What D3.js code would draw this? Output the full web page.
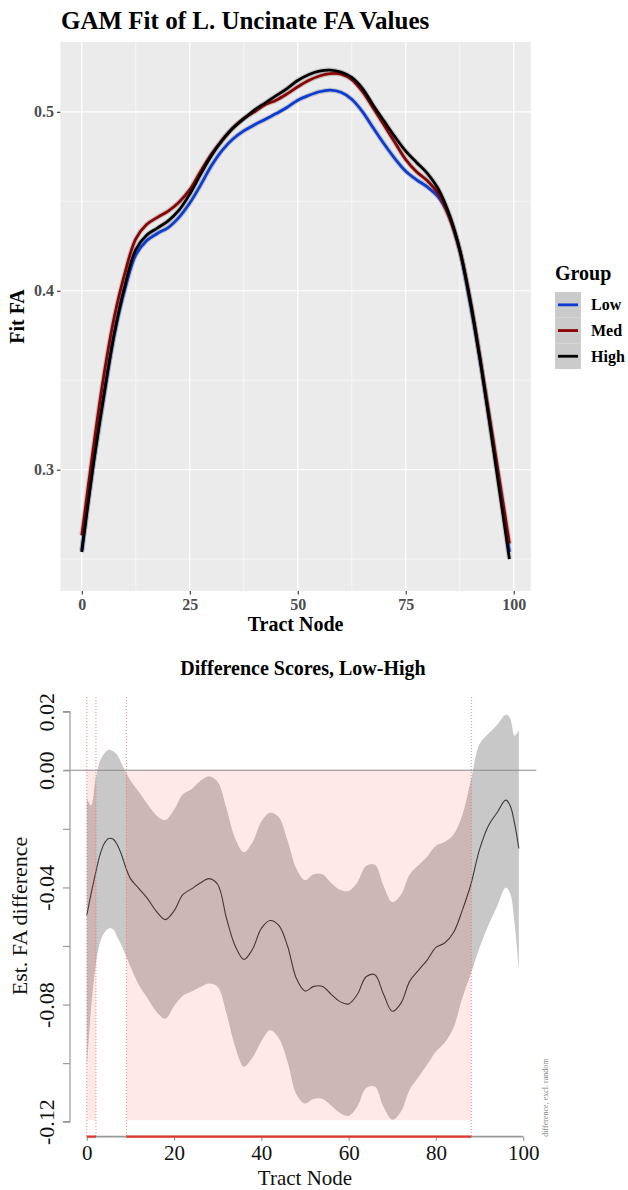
<!DOCTYPE html>
<html><head><meta charset="utf-8">
<script src="https://cdn.jsdelivr.net/npm/d3@7"></script>
<style>body{margin:0;background:#fff}</style>
</head><body>
<svg id="c" width="628" height="1190"></svg>
<script>
// ---------- Top chart data ----------
const topNodes = [0,2.5,5,7.5,10,12.5,15,17.5,20,22.5,25,27.5,30,32.5,35,37.5,40,42.5,45,47.5,50,52.5,55,57.5,60,62.5,65,67.5,70,72.5,75,77.5,80,82.5,85,87.5,90,92.5,95,97.5,99];
const fitLow  = [0.255,0.300,0.339,0.375,0.401,0.420,0.428,0.432,0.4353,0.441,0.449,0.459,0.4698,0.4785,0.4848,0.4893,0.4927,0.4958,0.499,0.5024,0.5065,0.5091,0.5112,0.5121,0.5109,0.507,0.500,0.4909,0.482,0.4738,0.4668,0.462,0.458,0.4525,0.442,0.4225,0.392,0.357,0.318,0.279,0.254];
const fitMed  = [0.2633,0.309,0.351,0.385,0.410,0.429,0.437,0.441,0.4445,0.4495,0.4565,0.4667,0.4762,0.4842,0.491,0.4963,0.500,0.504,0.5065,0.510,0.514,0.5175,0.520,0.5213,0.5211,0.518,0.5112,0.502,0.4925,0.4828,0.4733,0.4665,0.4615,0.4543,0.4415,0.4225,0.394,0.358,0.3202,0.2818,0.2587];
const fitHigh = [0.254,0.300,0.340,0.376,0.403,0.423,0.431,0.435,0.439,0.445,0.454,0.465,0.4755,0.484,0.491,0.496,0.501,0.505,0.509,0.513,0.5175,0.5207,0.5227,0.5233,0.5222,0.5192,0.513,0.5035,0.4947,0.486,0.478,0.4717,0.4656,0.457,0.4432,0.423,0.393,0.357,0.3165,0.275,0.250];
const groupNames = ["Low","Med","High"];
const groupColors = ["#0a3bd6","#8b0000","#000000"];
const topXTicks = [0,25,50,75,100];
const topXMinor = [12.5,37.5,62.5,87.5];
const topYTicks = [0.3,0.4,0.5];
const topYMinor = [0.25,0.35,0.45];

// ---------- Bottom chart data ----------
const diffNodes = [0,1,2,3,4,5,6,7,8,9,10,12,14,16,18,20,22,24,26,28,30,32,34,36,38,40,42,44,46,48,50,52,54,56,58,60,62,64,66,68,70,72,74,76,78,80,82,84,86,88,90,92,94,96,97,98,99];
const diffMean  = [-0.0495,-0.042,-0.0352,-0.029,-0.025,-0.0233,-0.0235,-0.0255,-0.029,-0.0335,-0.037,-0.0405,-0.044,-0.0483,-0.051,-0.048,-0.0425,-0.0405,-0.0385,-0.037,-0.039,-0.0505,-0.060,-0.0646,-0.061,-0.054,-0.0513,-0.053,-0.060,-0.071,-0.0754,-0.0738,-0.0738,-0.0765,-0.079,-0.0798,-0.0765,-0.0705,-0.0698,-0.0765,-0.0823,-0.0795,-0.072,-0.0683,-0.0648,-0.0605,-0.059,-0.0555,-0.048,-0.039,-0.027,-0.019,-0.0145,-0.0102,-0.012,-0.018,-0.0267];
const diffUpper = [-0.0097,-0.012,-0.003,0.003,0.0057,0.007,0.0065,0.0052,0.0022,-0.0008,-0.0035,-0.0075,-0.0118,-0.0155,-0.017,-0.0135,-0.0082,-0.0065,-0.0037,-0.002,-0.004,-0.013,-0.0233,-0.028,-0.0245,-0.0175,-0.0145,-0.016,-0.024,-0.0335,-0.0375,-0.0355,-0.0355,-0.0385,-0.0408,-0.0412,-0.0382,-0.0327,-0.0322,-0.0395,-0.045,-0.0425,-0.0355,-0.0324,-0.0295,-0.0258,-0.0245,-0.022,-0.0155,-0.0035,0.009,0.0125,0.0155,0.019,0.0178,0.0118,0.0137];
const diffLower = [-0.102,-0.081,-0.067,-0.059,-0.0555,-0.054,-0.0542,-0.057,-0.060,-0.0635,-0.067,-0.0735,-0.078,-0.0825,-0.0848,-0.0805,-0.077,-0.0755,-0.074,-0.0728,-0.074,-0.083,-0.0944,-0.1012,-0.098,-0.0925,-0.0888,-0.0915,-0.0995,-0.1105,-0.1138,-0.1122,-0.1122,-0.1145,-0.117,-0.118,-0.1148,-0.1085,-0.108,-0.115,-0.1193,-0.1165,-0.109,-0.1047,-0.1005,-0.096,-0.093,-0.088,-0.078,-0.0695,-0.0605,-0.053,-0.0465,-0.040,-0.042,-0.052,-0.068];
const sigStart = [0, 9.07];
const sigEnd   = [2.1, 88.1];
const botXTicks = [0,20,40,60,80,100];
const botYTicks = [0.02,0,-0.02,-0.04,-0.06,-0.08,-0.10,-0.12];
const botYLabels = ["0.02","0.00","","-0.04","","-0.08","","-0.12"];

const svg = d3.select("#c");
const SERIF = "'Liberation Serif','Times New Roman',serif";
svg.append("rect").attr("width",628).attr("height",1190).attr("fill","#fff");

// ================= TOP CHART =================
const pL = 60.4, pR = 530.8, pT = 42, pB = 591;
const xT = d3.scaleLinear().domain([-4.95, 103.95]).range([pL, pR]);
const yT = d3.scaleLinear().domain([0.2322, 0.539]).range([pB, pT]);
const topG = svg.append("g");
topG.append("rect").attr("x",pL).attr("y",pT).attr("width",pR-pL).attr("height",pB-pT).attr("fill","#ebebeb");
topG.selectAll(".gxm").data(topXMinor).enter().append("line")
  .attr("x1",d=>xT(d)).attr("x2",d=>xT(d)).attr("y1",pT).attr("y2",pB)
  .attr("stroke","#fff").attr("stroke-width",0.6);
topG.selectAll(".gym").data(topYMinor).enter().append("line")
  .attr("y1",d=>yT(d)).attr("y2",d=>yT(d)).attr("x1",pL).attr("x2",pR)
  .attr("stroke","#fff").attr("stroke-width",0.6);
topG.selectAll(".gx").data(topXTicks).enter().append("line")
  .attr("x1",d=>xT(d)).attr("x2",d=>xT(d)).attr("y1",pT).attr("y2",pB)
  .attr("stroke","#fff").attr("stroke-width",1.2);
topG.selectAll(".gy").data(topYTicks).enter().append("line")
  .attr("y1",d=>yT(d)).attr("y2",d=>yT(d)).attr("x1",pL).attr("x2",pR)
  .attr("stroke","#fff").attr("stroke-width",1.2);

const series = [fitLow, fitMed, fitHigh];
const lineT = d3.line().x((d,i)=>xT(topNodes[i])).y(d=>yT(d)).curve(d3.curveCatmullRom);
series.forEach((s,k)=>{
  topG.append("path").datum(s).attr("d",lineT).attr("fill","none")
    .attr("stroke","rgba(120,120,120,0.35)").attr("stroke-width",5);
});
series.forEach((s,k)=>{
  topG.append("path").datum(s).attr("d",lineT).attr("fill","none")
    .attr("stroke",groupColors[k]).attr("stroke-width",2.8).attr("stroke-linejoin","round");
});

const axL = topG.append("g").attr("transform",`translate(${pL},0)`)
  .call(d3.axisLeft(yT).tickValues(topYTicks).tickSize(3.5).tickPadding(3).tickFormat(d3.format(".1f")));
const axB = topG.append("g").attr("transform",`translate(0,${pB})`)
  .call(d3.axisBottom(xT).tickValues(topXTicks).tickSize(3.5).tickPadding(4).tickFormat(d3.format("d")));
[axL,axB].forEach(a=>{
  a.select(".domain").remove();
  a.selectAll(".tick line").attr("stroke","#333").attr("stroke-width",1.1);
  a.selectAll(".tick text").attr("fill","#4d4d4d").style("font-family",SERIF)
    .style("font-size","16px").style("font-weight","bold");
});

topG.append("text").attr("x",61).attr("y",29).text("GAM Fit of L. Uncinate FA Values")
  .style("font-family",SERIF).style("font-size","25px").style("font-weight","bold").attr("fill","#000");
topG.append("text").attr("x",(pL+pR)/2).attr("y",631).attr("text-anchor","middle").text("Tract Node")
  .style("font-family",SERIF).style("font-size","20px").style("font-weight","bold");
topG.append("text").attr("transform",`translate(24,${(pT+pB)/2}) rotate(-90)`).attr("text-anchor","middle").text("Fit FA")
  .style("font-family",SERIF).style("font-size","20px").style("font-weight","bold");

const lg = topG.append("g");
lg.append("text").attr("x",555).attr("y",280).text("Group")
  .style("font-family",SERIF).style("font-size","20px").style("font-weight","bold");
const keyH = 25.7;
groupNames.forEach((g,i)=>{
  const y0 = 292 + i*keyH;
  lg.append("rect").attr("x",555).attr("y",y0).attr("width",26).attr("height",keyH).attr("fill","#cbcbcb");
  lg.append("line").attr("x1",558).attr("x2",578).attr("y1",y0+keyH/2).attr("y2",y0+keyH/2)
    .attr("stroke",groupColors[i]).attr("stroke-width",2.8);
  lg.append("text").attr("x",591).attr("y",y0+keyH/2+5.5).text(g)
    .style("font-family",SERIF).style("font-size","16px").style("font-weight","bold");
});

// ================= BOTTOM CHART =================
const xB = d3.scaleLinear().domain([0,100]).range([86.8, 523.2]);
const yB = d3.scaleLinear().domain([-0.12, 0.02]).range([1121.7, 711.7]);
const botG = svg.append("g");
const plotTop = yB(0.025), plotBot = yB(-0.1251);
const bandArea = d3.area().x((d,i)=>xB(diffNodes[i])).y0((d,i)=>yB(diffLower[i])).y1(d=>yB(d)).curve(d3.curveCatmullRom);
botG.append("path").datum(diffUpper).attr("d",bandArea).attr("fill","#c8c8c8");
const lineB = d3.line().x((d,i)=>xB(diffNodes[i])).y(d=>yB(d)).curve(d3.curveCatmullRom);
botG.append("path").datum(diffMean).attr("d",lineB).attr("fill","none").attr("stroke","#3a3a3a").attr("stroke-width",1.1);

sigStart.forEach((s,i)=>{
  botG.append("rect").attr("x",xB(s)).attr("y",yB(0)).attr("width",xB(sigEnd[i])-xB(s)).attr("height",yB(-0.1195)-yB(0))
    .attr("fill","rgba(255,0,0,0.09)");
});
botG.append("line").attr("x1",xB(-5.3)).attr("x2",xB(103)).attr("y1",yB(0)).attr("y2",yB(0))
  .attr("stroke","#8a8a8a").attr("stroke-width",1.1);
const cuts = [];
sigStart.forEach((s,i)=>{cuts.push(s); cuts.push(sigEnd[i]);});
botG.selectAll(".cut").data(cuts).enter().append("line")
  .attr("x1",d=>xB(d)).attr("x2",d=>xB(d)).attr("y1",plotTop).attr("y2",plotBot)
  .attr("stroke","#f07070").attr("stroke-width",0.9).attr("stroke-dasharray","1,2");

const bAxY = botG.append("g").attr("transform","translate(70,0)")
  .call(d3.axisLeft(yB).tickValues(botYTicks).tickSize(7).tickPadding(0).tickFormat((d,i)=>botYLabels[i]));
bAxY.select(".domain").attr("stroke","#999").attr("stroke-width",1.2).attr("d",`M-7,${yB(0.02)}H0V${yB(-0.12)}H-7`);
bAxY.selectAll(".tick line").attr("stroke","#999").attr("stroke-width",1.2);
bAxY.selectAll(".tick text").attr("x",0).attr("y",0).attr("dy",null)
  .attr("transform","translate(-16,0) rotate(-90)").attr("text-anchor","middle")
  .attr("fill","#111").style("font-family",SERIF).style("font-size","22px");

const bAxX = botG.append("g").attr("transform",`translate(0,${plotBot})`)
  .call(d3.axisBottom(xB).tickValues(botXTicks).tickSize(4).tickPadding(4).tickFormat(d3.format("d")));
bAxX.select(".domain").attr("stroke","#999").attr("stroke-width",1.6).attr("d",`M${xB(0)},0H${xB(100)}`);
bAxX.selectAll(".tick line").attr("stroke","#999").attr("stroke-width",1.2);
bAxX.selectAll(".tick text").attr("fill","#111").style("font-family",SERIF).style("font-size","21px");
sigStart.forEach((s,i)=>{
  botG.append("line").attr("x1",xB(s)).attr("x2",xB(sigEnd[i])).attr("y1",plotBot).attr("y2",plotBot)
    .attr("stroke","#e0392b").attr("stroke-width",2.2);
});

botG.append("text").attr("x",303).attr("y",675).attr("text-anchor","middle").text("Difference Scores, Low-High")
  .style("font-family",SERIF).style("font-size","20px").style("font-weight","bold");
botG.append("text").attr("x",xB(50)).attr("y",1185).attr("text-anchor","middle").text("Tract Node")
  .style("font-family",SERIF).style("font-size","21px").attr("fill","#111");
botG.append("text").attr("transform","translate(27,916) rotate(-90)").attr("text-anchor","middle").text("Est. FA difference")
  .style("font-family",SERIF).style("font-size","22px").attr("fill","#111");
botG.append("text").attr("transform",`translate(548,${plotBot}) rotate(-90)`).attr("text-anchor","start").text("difference, excl. random")
  .style("font-family",SERIF).style("font-size","8px").attr("fill","#888");
</script>
</body></html>
